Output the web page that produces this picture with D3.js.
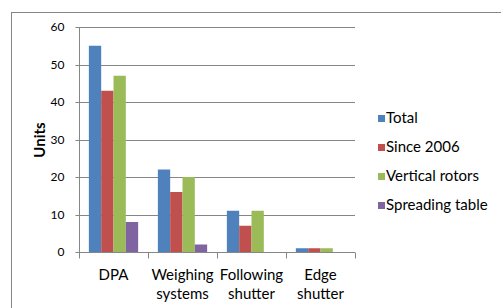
<!DOCTYPE html>
<html>
<head>
<meta charset="utf-8">
<script src="https://cdn.jsdelivr.net/npm/d3@7"></script>
<style>
  body { margin: 0; background: #fff; }
  text { font-family: Lato, "Open Sans", sans-serif; fill: #000; }
</style>
</head>
<body>
<svg id="chart" width="501" height="308"></svg>
<script>
// chart data
var categories = [['DPA'], ['Weighing', 'systems'], ['Following', 'shutter'], ['Edge', 'shutter']]
var seriesNames = ['Total', 'Since 2006', 'Vertical rotors', 'Spreading table']
var total = [55, 22, 11, 1]
var since2006 = [43, 16, 7, 1]
var verticalRotors = [47, 20, 11, 1]
var spreadingTable = [8, 2, 0, 0]
var yTicks = [0, 10, 20, 30, 40, 50, 60]
var colors = ['#4f81bd', '#c0504d', '#9bbb59', '#8064a2']

var seriesValues = [total, since2006, verticalRotors, spreadingTable]

var svg = d3.select('#chart')

// outer frame
svg.append('rect')
  .attr('x', 11.5).attr('y', 12.5)
  .attr('width', 520).attr('height', 320)
  .attr('fill', 'none')
  .attr('stroke', '#868686')

var plot = {left: 79, right: 355, top: 27, bottom: 252}

var x0 = d3.scaleBand()
  .domain(d3.range(categories.length))
  .range([plot.left, plot.right])

var x1 = d3.scaleBand()
  .domain(d3.range(seriesNames.length))
  .range([0, x0.bandwidth()])
  .paddingOuter(0.8)

var y = d3.scaleLinear()
  .domain([0, 60])
  .range([plot.bottom, plot.top])

// gridlines
svg.append('g')
  .selectAll('line')
  .data(yTicks.slice(1))
  .enter().append('line')
  .attr('x1', plot.left).attr('x2', plot.right)
  .attr('y1', d => Math.round(y(d)) + 0.5)
  .attr('y2', d => Math.round(y(d)) + 0.5)
  .attr('stroke', '#868686')

// bars
var groups = svg.append('g')
  .selectAll('g')
  .data(categories)
  .enter().append('g')
  .attr('transform', (d, i) => `translate(${x0(i)},0)`)

groups.selectAll('rect')
  .data((d, i) => seriesValues.map((s, k) => ({k: k, v: s[i]})))
  .enter().append('rect')
  .attr('x', d => x1(d.k))
  .attr('width', x1.bandwidth())
  .attr('y', d => y(d.v))
  .attr('height', d => y(0) - y(d.v))
  .attr('fill', d => colors[d.k])

// y axis
var yAxis = svg.append('g')
  .attr('transform', `translate(${plot.left + 0.5},0)`)
  .call(d3.axisLeft(y).tickValues(yTicks).tickSize(4).tickPadding(11))
yAxis.select('.domain').attr('stroke', '#868686').attr('d', `M0,${plot.top}V${plot.bottom}`)
yAxis.selectAll('.tick line').attr('stroke', '#868686')
yAxis.selectAll('.tick text').style('font-size', '12px').attr('fill', '#000')
yAxis.selectAll('.tick').attr('transform', d => `translate(0,${Math.round(y(d)) + 0.5})`)

// x axis
var xAxis = svg.append('g')
  .attr('transform', `translate(0,${plot.bottom + 0.5})`)
xAxis.append('line')
  .attr('x1', plot.left).attr('x2', plot.right)
  .attr('stroke', '#868686')
xAxis.selectAll('.xtick')
  .data(d3.range(categories.length + 1))
  .enter().append('line')
  .attr('x1', i => Math.round(plot.left + i * x0.step()) + 0.5)
  .attr('x2', i => Math.round(plot.left + i * x0.step()) + 0.5)
  .attr('y1', 0).attr('y2', 6)
  .attr('stroke', '#868686')

var xLabels = svg.append('g')
  .selectAll('text')
  .data(categories)
  .enter().append('text')
  .attr('text-anchor', 'middle')
  .style('font-size', '15px')
  .attr('transform', (d, i) => `translate(${x0(i) + x0.bandwidth() / 2},280)`)

xLabels.selectAll('tspan')
  .data(d => d)
  .enter().append('tspan')
  .attr('x', 0)
  .attr('y', (d, i) => i * 19)
  .text(d => d)

// y label
svg.append('text')
  .attr('transform', 'translate(45,140) rotate(-90)')
  .attr('text-anchor', 'middle')
  .style('font-size', '15px')
  .style('font-weight', 'bold')
  .text('Units')

// legend
var legend = svg.append('g')
  .selectAll('g')
  .data(seriesNames)
  .enter().append('g')
  .attr('transform', (d, i) => `translate(378,${123 + i * 29})`)

legend.append('rect')
  .attr('x', 0).attr('y', -8)
  .attr('width', 7).attr('height', 7)
  .attr('fill', (d, i) => colors[i])

legend.append('text')
  .attr('x', 8).attr('y', 0)
  .style('font-size', '15px')
  .text(d => d)
</script>
</body>
</html>
